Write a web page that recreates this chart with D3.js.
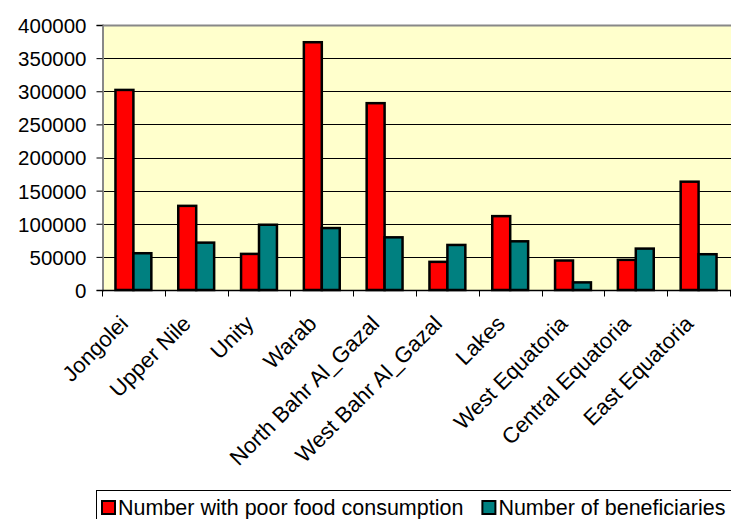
<!DOCTYPE html>
<html>
<head>
<meta charset="utf-8">
<script src="https://cdn.jsdelivr.net/npm/d3@7"></script>
<style>
  html, body { margin: 0; padding: 0; background: #fff; }
  svg { display: block; }
  text { font-family: "Liberation Sans", Arial, sans-serif; fill: #000; }
</style>
</head>
<body>
<svg id="chart" width="731" height="519"></svg>
<script>
// Regions of South Sudan
const categories = ["Jongolei", "Upper Nile", "Unity", "Warab", "North Bahr Al_Gazal",
  "West Bahr Al_Gazal", "Lakes", "West Equatoria", "Central Equatoria", "East Equatoria"];

const seriesNames = ["Number with poor food consumption", "Number of beneficiaries"];

const poorFoodConsumption = [302000, 127000, 54500, 374000, 282000, 42500, 111500, 44500, 45500, 163500];
const beneficiaries = [55500, 71500, 98500, 93500, 79500, 68000, 73500, 11500, 62500, 54000];

const yTicks = [0, 50000, 100000, 150000, 200000, 250000, 300000, 350000, 400000];

const colors = ["#ff0000", "#008080"];

const svg = d3.select("#chart");
const plot = { left: 102, top: 25, right: 730, bottom: 290 };

const x = d3.scaleBand().domain(categories).range([plot.left, plot.right]);
const y = d3.scaleLinear().domain([0, 400000]).range([plot.bottom, plot.top]);
// two bars per group with a 150% gap width
const barW = x.bandwidth() / 3.5;
const xs = d3.scaleBand().domain([0, 1]).range([barW * 0.75, barW * 2.75]).padding(0);

// plot background
svg.append("rect")
  .attr("x", plot.left).attr("y", plot.top)
  .attr("width", plot.right - plot.left + 1).attr("height", plot.bottom - plot.top)
  .attr("fill", "#ffffcc");

// grid lines
svg.append("g").selectAll("line").data(yTicks.slice(1)).join("line")
  .attr("x1", plot.left).attr("x2", plot.right + 1)
  .attr("y1", d => Math.round(y(d)) + 0.5).attr("y2", d => Math.round(y(d)) + 0.5)
  .attr("stroke", d => d === 400000 ? "#888" : "#000")
  .attr("stroke-width", d => d === 400000 ? 2 : 1);

// y axis
const yAxis = svg.append("g")
  .attr("transform", `translate(${plot.left + 0.5},0)`)
  .call(d3.axisLeft(y).tickValues(yTicks).tickFormat(d3.format("d")).tickSize(6).tickPadding(10));
yAxis.select(".domain").attr("stroke", "#888").attr("stroke-width", 2);
yAxis.selectAll(".tick line").attr("stroke", "#000");
yAxis.selectAll(".tick text").attr("font-size", 20.5).attr("font-family", "Liberation Sans, Arial, sans-serif")
  .attr("dy", "0.36em");

// bars
const groups = svg.append("g").selectAll("g").data(categories).join("g")
  .attr("transform", d => `translate(${x(d)},0)`);
[poorFoodConsumption, beneficiaries].forEach((vals, si) => {
  groups.append("rect")
    .attr("x", (d, i) => xs(si))
    .attr("y", (d, i) => y(vals[i]))
    .attr("width", xs.bandwidth())
    .attr("height", (d, i) => y(0) - y(vals[i]))
    .attr("fill", colors[si])
    .attr("stroke", "#000")
    .attr("stroke-width", 2.5);
});

// x axis
const xAxis = svg.append("g")
  .attr("transform", `translate(0,${plot.bottom + 0.5})`);
xAxis.append("line").attr("x1", plot.left).attr("x2", plot.right + 1)
  .attr("stroke", "#000").attr("stroke-width", 1.5);
const edges = categories.map(c => x(c)).concat([plot.right]);
xAxis.selectAll("line.tick").data(edges).join("line").attr("class", "tick")
  .attr("x1", d => Math.round(d) + 0.5).attr("x2", d => Math.round(d) + 0.5)
  .attr("y1", 0).attr("y2", 6).attr("stroke", "#000");
xAxis.selectAll("text").data(categories).join("text")
  .attr("font-size", 22)
  .attr("text-anchor", "end")
  .attr("transform", d => `translate(${x(d) + x.bandwidth() / 2 - 4},${34.5}) rotate(-45)`)
  .text(d => d);

// legend
const lg = svg.append("g");
lg.append("rect").attr("x", 96.5).attr("y", 490.5).attr("width", 640).attr("height", 40)
  .attr("fill", "#fff").attr("stroke", "#000").attr("stroke-width", 1);
let lx = 101;
seriesNames.forEach((name, i) => {
  lg.append("rect").attr("x", lx + 1).attr("y", 501).attr("width", 13).attr("height", 13)
    .attr("fill", colors[i]).attr("stroke", "#000").attr("stroke-width", 2);
  const t = lg.append("text").attr("x", lx + 17).attr("y", 515).attr("font-size", 21.5).text(name);
  lx += 17 + t.node().getComputedTextLength() + 18;
});
</script>
</body>
</html>
